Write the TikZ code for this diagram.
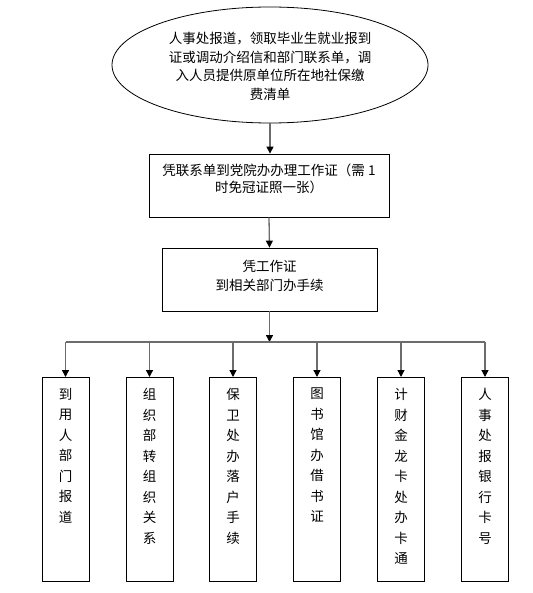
\documentclass[tikz,border=0pt]{standalone}
\usepackage{fontspec}
\newfontfamily\cjk{Noto Sans CJK SC}
\usetikzlibrary{shapes.geometric,arrows.meta}
\tikzset{
  conn/.style={draw=gray!85!black, line width=1.3bp, -{Triangle[width=7bp,length=7bp,color=black]}},
  bus/.style={draw=gray!85!black, line width=1.3bp},
  boxshape/.style={draw=black, line width=0.8bp, rectangle, inner sep=0pt},
  vbox/.style={boxshape, minimum width=47bp, minimum height=204bp, anchor=north},
  vtext/.style={font=\cjk\fontsize{13.5bp}{20.5bp}\selectfont, align=center, inner sep=0pt, anchor=north},
  txt/.style={font=\cjk\fontsize{13.5bp}{#1}\selectfont, align=center, inner sep=0pt},
}
\begin{document}
\begin{tikzpicture}[x=1bp,y=-1bp]
\useasboundingbox (0,0) rectangle (533,593);
% top ellipse
\node[ellipse, draw=black, line width=0.8bp, minimum width=316bp, minimum height=116bp, inner sep=0pt] (start) at (270,65) {};
\node[txt=18.5bp] (starttext) at (270,66.5) {人事处报道，领取毕业生就业报到\\证或调动介绍信和部门联系单，调\\入人员提供原单位所在地社保缴\\费清单};
% box 1
\node[boxshape, minimum width=240bp, minimum height=63bp] (b1) at (269,185.5) {};
\node[txt=16.5bp, anchor=north] (b1text) at (269,164) {凭联系单到党院办办理工作证（需 1\\时免冠证照一张）};
% box 2
\node[boxshape, minimum width=215bp, minimum height=63bp] (b2) at (269.5,279.5) {};
\node[txt=19bp] (b2text) at (269.5,275.5) {凭工作证\\到相关部门办手续};
% arrows
\draw[conn] (start.south) -- (start.south |- b1.north);
\draw[conn] (b1.south) -- (b2.north);
\coordinate (j) at (269.5,342);
\draw[conn] (b2.south) -- (j);
% bottom boxes
\node[vbox] (c1) at (65.5,377) {};
\node[vbox] (c2) at (149.5,377) {};
\node[vbox] (c3) at (233,377) {};
\node[vbox] (c4) at (317,377) {};
\node[vbox] (c5) at (401,377) {};
\node[vbox] (c6) at (485,377) {};
\node[vtext] (t1) at ([yshift=-11bp]c1.north) {到\\用\\人\\部\\门\\报\\道};
\node[vtext] (t2) at ([yshift=-11bp]c2.north) {组\\织\\部\\转\\组\\织\\关\\系};
\node[vtext] (t3) at ([yshift=-11bp]c3.north) {保\\卫\\处\\办\\落\\户\\手\\续};
\node[vtext] (t4) at ([yshift=-11bp]c4.north) {图\\书\\馆\\办\\借\\书\\证};
\node[vtext] (t5) at ([yshift=-11bp]c5.north) {计\\财\\金\\龙\\卡\\处\\办\\卡\\通};
\node[vtext] (t6) at ([yshift=-11bp]c6.north) {人\\事\\处\\报\\银\\行\\卡\\号};
% bus
\coordinate (l) at (c1.north |- j);
\coordinate (r) at (c6.north |- j);
\draw[bus] (l) -- (r);
\foreach \n in {c1,c2,c3,c4,c5,c6}{
  \draw[conn] (\n.north |- j) -- (\n.north);
}
\end{tikzpicture}
\end{document}
